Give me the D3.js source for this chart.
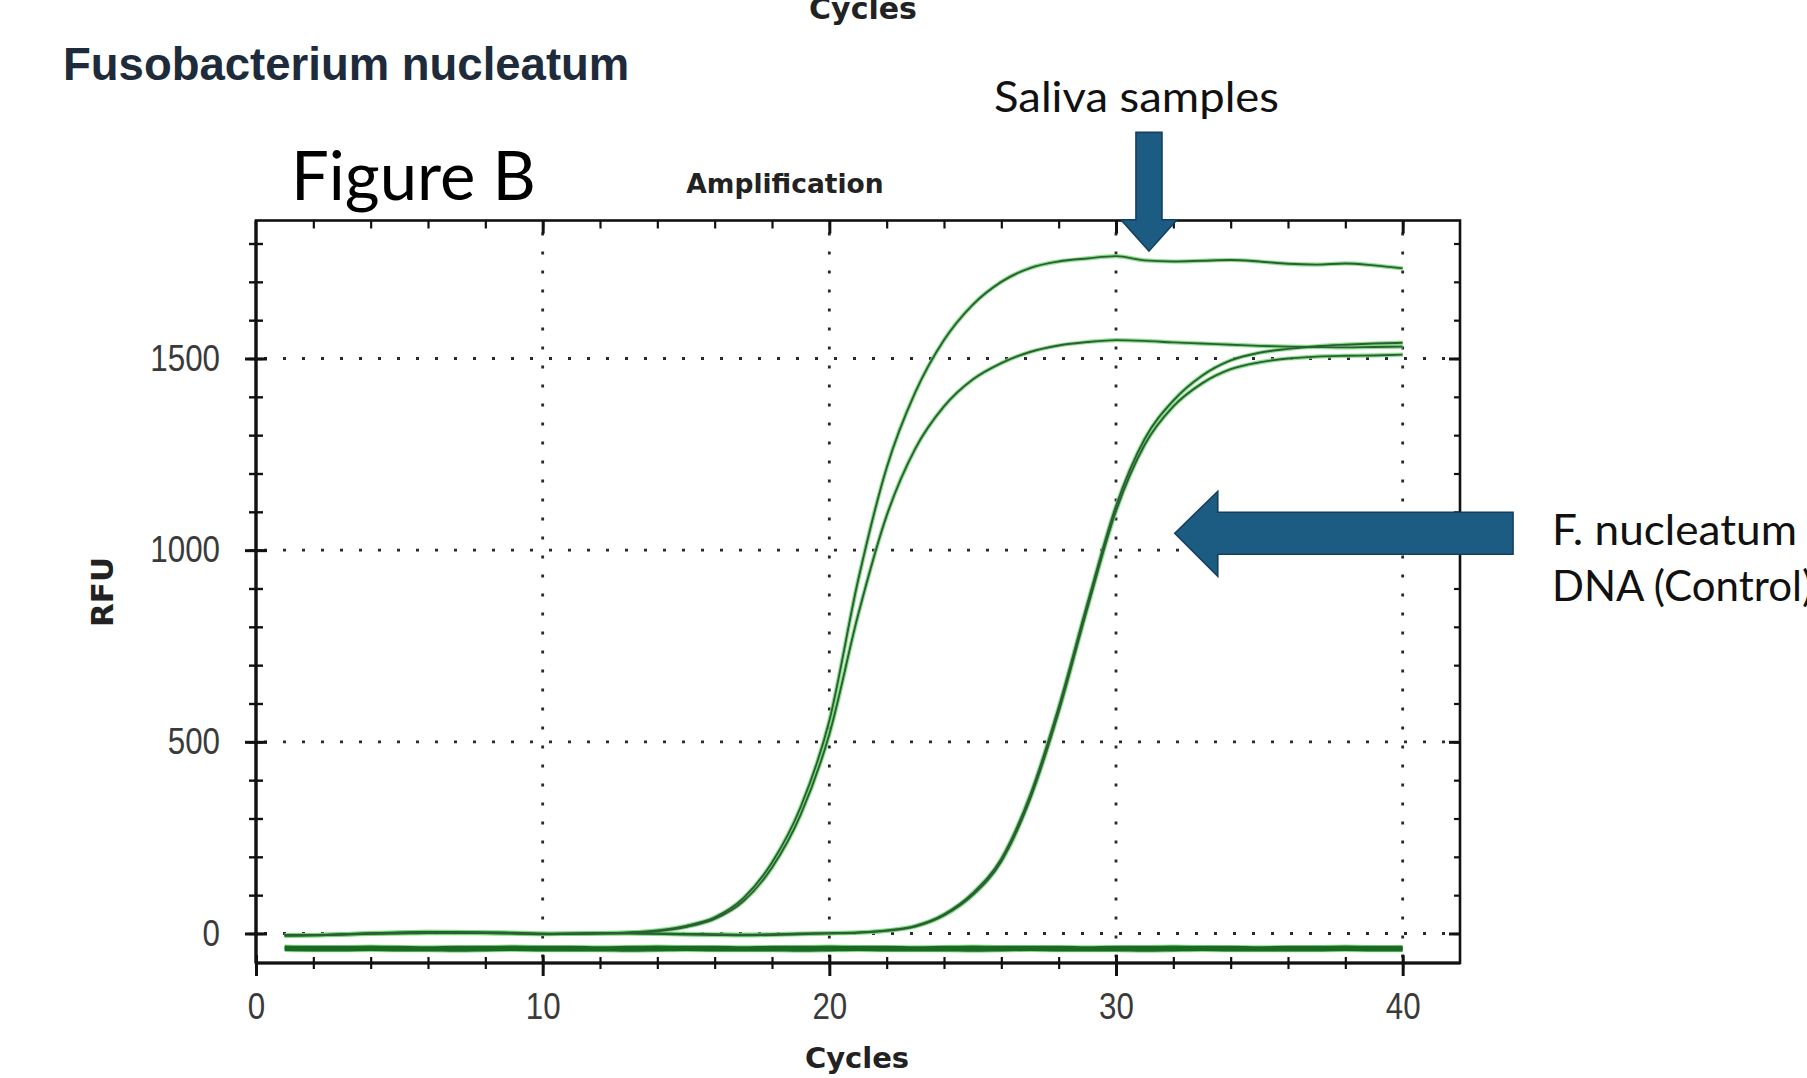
<!DOCTYPE html>
<html>
<head>
<meta charset="utf-8">
<script src="https://cdn.jsdelivr.net/npm/d3@7"></script>
<style>
  body { margin: 0; background: #fff; }
  svg { display: block; }
</style>
</head>
<body>
<div id="chart"></div>
<script>
// cycles 1..40, RFU
const cycles = d3.range(1, 41);
const salivaA = [-6, -5, -3, 0, 2, 4, 4, 3, 2, 0, -1, 1, 3, 8, 20, 42, 92, 185, 330, 555,
  920, 1215, 1412, 1548, 1640, 1700, 1736, 1753, 1761, 1767, 1756, 1753, 1755, 1757, 1753, 1747, 1745, 1748, 1743, 1735];
const salivaB = [-5, -5, -2, 1, 3, 4, 3, 3, 1, -1, 0, 1, 2, 6, 17, 38, 84, 172, 310, 520,
  830, 1090, 1265, 1375, 1445, 1488, 1517, 1534, 1543, 1548, 1546, 1542, 1539, 1536, 1533, 1531, 1530, 1529, 1530, 1531];
const controlA = [-4, -4, -2, 0, 1, 2, 2, 1, 0, -1, 0, 0, 1, 0, -1, -2, -3, -2, 0, 1,
  3, 8, 20, 50, 105, 195, 360, 590, 860, 1115, 1290, 1390, 1455, 1495, 1515, 1525, 1532, 1536, 1539, 1541];
const controlB = [-5, -4, -3, -1, 0, 1, 1, 1, 0, -2, -1, 0, 0, -1, -3, -4, -5, -4, -2, 0,
  2, 7, 18, 47, 100, 188, 350, 578, 848, 1102, 1275, 1375, 1435, 1472, 1490, 1500, 1505, 1507, 1508, 1510];
const ntcA = [-36, -37, -37, -36, -37, -38, -37, -37, -36, -37, -37, -38, -37, -36, -37, -37, -38, -37, -37, -36,
  -37, -37, -38, -37, -36, -37, -37, -37, -38, -37, -37, -36, -37, -37, -38, -37, -37, -36, -37, -37];
const ntcB = [-41, -42, -42, -41, -42, -42, -43, -42, -41, -42, -42, -42, -43, -42, -41, -42, -42, -42, -43, -42,
  -41, -42, -42, -42, -43, -42, -41, -42, -42, -42, -43, -42, -41, -42, -42, -42, -42, -41, -42, -42];
const allSeries = [ntcA, ntcB, controlB, controlA, salivaB, salivaA];

const xTicks = [0, 10, 20, 30, 40];
const xMinor = d3.range(0, 41, 2);
const yTicks = [0, 500, 1000, 1500];
const yMinor = d3.range(0, 1801, 100);

// arrows, in cycle / RFU units
const salivaArrow = { cycle: 31.15, tip: 1780, base: 1862, top: 2090 };
const controlArrow = { tip: 32.05, base: 33.55, end: 43.85, rfu: 1044 };

const W = 1807, H = 1078;
const plot = { left: 256, right: 1460, top: 220.5, bottom: 963 };

const svg = d3.select("#chart").append("svg")
  .attr("width", W).attr("height", H)
  .attr("viewBox", `0 0 ${W} ${H}`);

const x = d3.scaleLinear().domain([0, 42]).range([plot.left, plot.right]);
const y = d3.scaleLinear().domain([-77, 1860]).range([plot.bottom, plot.top]);

// dotted grid
const grid = svg.append("g")
  .attr("stroke", "#2a2a2a")
  .attr("stroke-width", 2.8)
  .attr("stroke-dasharray", "3 16");
grid.selectAll(".gx").data(xTicks.slice(1)).join("line")
  .attr("x1", d => x(d)).attr("x2", d => x(d))
  .attr("y1", plot.top + 12).attr("y2", plot.bottom);
grid.selectAll(".gy").data(yTicks).join("line")
  .attr("x1", plot.left + 8).attr("x2", plot.right)
  .attr("y1", d => y(d)).attr("y2", d => y(d));

// amplification curves: light green edge under a dark core
const line = d3.line()
  .x((d, i) => x(cycles[i]))
  .y(d => y(d))
  .curve(d3.curveMonotoneX);

svg.append("g").selectAll("path").data(allSeries).join("path")
  .attr("d", line)
  .attr("fill", "none")
  .attr("stroke", "#6fd86f")
  .attr("stroke-opacity", 0.8)
  .attr("stroke-width", (d, i) => (i < 2 ? 5.5 : 4.2));
svg.append("g").selectAll("path").data(allSeries).join("path")
  .attr("d", line)
  .attr("fill", "none")
  .attr("stroke", (d, i) => (i < 2 ? "#1b6a24" : "#2c5e36"))
  .attr("stroke-width", (d, i) => (i < 2 ? 3.6 : 1.9));

// frame
svg.append("rect")
  .attr("x", plot.left).attr("y", plot.top)
  .attr("width", plot.right - plot.left).attr("height", plot.bottom - plot.top)
  .attr("fill", "none").attr("stroke", "#111").attr("stroke-width", 2.6);
svg.append("line")
  .attr("x1", plot.left).attr("x2", plot.left)
  .attr("y1", plot.top).attr("y2", plot.bottom)
  .attr("stroke", "#111").attr("stroke-width", 3.2);
svg.append("line")
  .attr("x1", plot.left).attr("x2", plot.right)
  .attr("y1", plot.bottom).attr("y2", plot.bottom)
  .attr("stroke", "#111").attr("stroke-width", 3.2);

const styleTicks = (g, w) => {
  g.select(".domain").remove();
  g.selectAll(".tick line").attr("stroke", "#111").attr("stroke-width", w);
};

// bottom axis: minor ticks cross the line, majors carry labels
const gxm = svg.append("g").attr("transform", `translate(0,${plot.bottom})`)
  .call(d3.axisBottom(x).tickValues(xMinor).tickSize(6).tickFormat(""));
styleTicks(gxm, 2.2);
gxm.selectAll(".tick line").attr("y1", -6);

const gx = svg.append("g").attr("transform", `translate(0,${plot.bottom})`)
  .call(d3.axisBottom(x).tickValues(xTicks).tickSize(13).tickPadding(17).tickFormat(d3.format("d")));
styleTicks(gx, 3);
gx.selectAll(".tick line").attr("y1", -8);
gx.selectAll(".tick text")
  .attr("font-family", "'Liberation Sans', Arial, sans-serif")
  .attr("font-size", 36)
  .attr("fill", "#3a3a3a")
  .attr("transform", "scale(0.87,1)");

// top axis: ticks point inward
const gtm = svg.append("g").attr("transform", `translate(0,${plot.top})`)
  .call(d3.axisTop(x).tickValues(xMinor.slice(1)).tickSize(-8).tickFormat(""));
styleTicks(gtm, 2.2);
const gt = svg.append("g").attr("transform", `translate(0,${plot.top})`)
  .call(d3.axisTop(x).tickValues(xTicks.slice(1)).tickSize(-13).tickFormat(""));
styleTicks(gt, 3);

// left axis
const gym = svg.append("g").attr("transform", `translate(${plot.left},0)`)
  .call(d3.axisLeft(y).tickValues(yMinor).tickSize(7).tickFormat(""));
styleTicks(gym, 2.4);
gym.selectAll(".tick line").attr("x1", 7);

const gy = svg.append("g").attr("transform", `translate(${plot.left},0)`)
  .call(d3.axisLeft(y).tickValues(yTicks).tickSize(11).tickPadding(25).tickFormat(d3.format("d")));
styleTicks(gy, 3);
gy.selectAll(".tick line").attr("x1", 11);
gy.selectAll(".tick text")
  .attr("font-family", "'Liberation Sans', Arial, sans-serif")
  .attr("font-size", 36)
  .attr("fill", "#3a3a3a")
  .attr("x", -36 / 0.87)
  .attr("transform", "scale(0.87,1)");

// right axis: ticks point inward
const grm = svg.append("g").attr("transform", `translate(${plot.right},0)`)
  .call(d3.axisRight(y).tickValues(yMinor).tickSize(-6).tickFormat(""));
styleTicks(grm, 2.2);
const gr = svg.append("g").attr("transform", `translate(${plot.right},0)`)
  .call(d3.axisRight(y).tickValues(yTicks).tickSize(-11).tickFormat(""));
styleTicks(gr, 3);

// chart labels
const bold = "'DejaVu Sans', Verdana, sans-serif";
svg.append("text")
  .attr("x", 863).attr("y", 19)
  .attr("text-anchor", "middle")
  .attr("font-family", bold).attr("font-weight", "bold")
  .attr("font-size", 30).attr("fill", "#222")
  .text("Cycles");

svg.append("text")
  .attr("x", 63).attr("y", 80)
  .attr("font-family", "'Liberation Sans', Arial, sans-serif").attr("font-weight", "bold")
  .attr("font-size", 45.5).attr("fill", "#1e2b3a")
  .text("Fusobacterium nucleatum");

svg.append("text")
  .attr("x", 785).attr("y", 193)
  .attr("text-anchor", "middle")
  .attr("font-family", bold).attr("font-weight", "bold")
  .attr("font-size", 26.5).attr("fill", "#222")
  .text("Amplification");

svg.append("text")
  .attr("x", 857).attr("y", 1068)
  .attr("text-anchor", "middle")
  .attr("font-family", bold).attr("font-weight", "bold")
  .attr("font-size", 29).attr("fill", "#222")
  .text("Cycles");

svg.append("text")
  .attr("transform", "translate(113,592) rotate(-90)")
  .attr("text-anchor", "middle")
  .attr("font-family", bold).attr("font-weight", "bold")
  .attr("font-size", 31).attr("fill", "#222")
  .text("RFU");

// annotations
const annot = "Lato, 'Open Sans', sans-serif";
svg.append("text")
  .attr("x", 291).attr("y", 200)
  .attr("font-family", annot).attr("font-size", 67).attr("fill", "#000")
  .text("Figure B");

svg.append("text")
  .attr("x", 994).attr("y", 112)
  .attr("font-family", annot).attr("font-size", 42).attr("fill", "#111")
  .attr("textLength", 285).attr("lengthAdjust", "spacingAndGlyphs")
  .text("Saliva samples");

svg.append("text")
  .attr("x", 1552).attr("y", 545)
  .attr("font-family", annot).attr("font-size", 43).attr("fill", "#111")
  .attr("textLength", 245).attr("lengthAdjust", "spacingAndGlyphs")
  .text("F. nucleatum");
svg.append("text")
  .attr("x", 1552).attr("y", 601)
  .attr("font-family", annot).attr("font-size", 42).attr("fill", "#111")
  .text("DNA (Control)");

// arrows
const arrowFill = "#1c5b82", arrowStroke = "#14405e";
const ax = x(salivaArrow.cycle);
const downPts = [
  [ax - 13, y(salivaArrow.top)], [ax + 13, y(salivaArrow.top)],
  [ax + 13, y(salivaArrow.base)], [ax + 28, y(salivaArrow.base)],
  [ax, y(salivaArrow.tip)],
  [ax - 28, y(salivaArrow.base)], [ax - 13, y(salivaArrow.base)]
];
const ay = y(controlArrow.rfu);
const leftPts = [
  [x(controlArrow.tip), ay],
  [x(controlArrow.base), ay - 42], [x(controlArrow.base), ay - 21],
  [x(controlArrow.end), ay - 21], [x(controlArrow.end), ay + 21],
  [x(controlArrow.base), ay + 21], [x(controlArrow.base), ay + 43]
];
svg.selectAll(".arrow").data([downPts, leftPts]).join("polygon")
  .attr("points", d => d.map(p => p.join(",")).join(" "))
  .attr("fill", arrowFill)
  .attr("stroke", arrowStroke)
  .attr("stroke-width", 1.6);
</script>
</body>
</html>
